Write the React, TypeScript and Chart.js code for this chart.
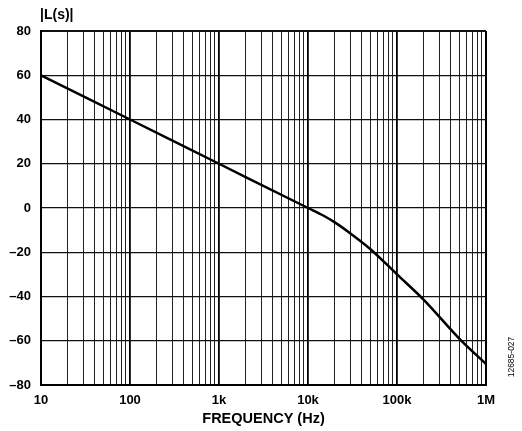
import React, { useEffect, useRef } from 'react';
import { Chart, registerables } from 'chart.js';

Chart.register(...registerables);

const freqHz = [10, 100, 1000, 10000, 15000, 20000, 30000, 50000, 100000, 200000, 500000, 1000000];
const magnitudeDb = [60, 40, 20, 0, -3.5, -6.5, -11.5, -18.5, -30, -41.5, -59, -70.5];

const decadeTicks = [10, 100, 1000, 10000, 100000, 1000000];
const decadeLabels = ['10', '100', '1k', '10k', '100k', '1M'];
const minorMultipliers = [2, 3, 4, 5, 6, 7, 8, 9];
const yTicks = [-80, -60, -40, -20, 0, 20, 40, 60, 80];

const yAxisTitle = '|L(s)|';
const xAxisTitle = 'FREQUENCY (Hz)';
const figureCode = '12685-027';

const FONT = "'Liberation Sans', Arial, sans-serif";
const INK = '#000000';

export default function App() {
  const ref = useRef<HTMLCanvasElement | null>(null);

  useEffect(() => {
    document.body.style.margin = '0';
    const canvas = ref.current;
    if (!canvas) return;

    const xGrid: number[] = [];
    decadeTicks.forEach((d, i) => {
      xGrid.push(d);
      if (i < decadeTicks.length - 1) minorMultipliers.forEach((m) => xGrid.push(d * m));
    });

    const isDecade = (v: number) => decadeTicks.indexOf(v) >= 0;

    const textPlugin = {
      id: 'texts',
      afterDraw(chart: any) {
        const { ctx, chartArea } = chart;
        ctx.save();
        ctx.fillStyle = INK;
        ctx.font = `bold 14px ${FONT}`;
        ctx.textAlign = 'left';
        ctx.textBaseline = 'middle';
        ctx.fillText(yAxisTitle, chartArea.left - 1, 15);
        ctx.font = `8.5px ${FONT}`;
        ctx.translate(512, 357);
        ctx.rotate(-Math.PI / 2);
        ctx.textAlign = 'center';
        ctx.fillText(figureCode, 0, 0);
        ctx.restore();
      },
    };

    const chart = new Chart(canvas, {
      type: 'line',
      data: {
        datasets: [
          {
            data: freqHz.map((f, i) => ({ x: f, y: magnitudeDb[i] })),
            borderColor: INK,
            borderWidth: 2.5,
            pointRadius: 0,
            cubicInterpolationMode: 'monotone',
            fill: false,
          },
        ],
      },
      options: {
        animation: false,
        responsive: false,
        devicePixelRatio: 1,
        layout: { padding: { left: 0, right: 36, top: 31, bottom: 0 } },
        plugins: { legend: { display: false }, tooltip: { enabled: false }, title: { display: false } },
        scales: {
          x: {
            type: 'logarithmic',
            min: 10,
            max: 1000000,
            afterBuildTicks: (scale: any) => {
              scale.ticks = xGrid.map((v) => ({ value: v }));
            },
            afterFit: (scale: any) => {
              scale.height = 46;
            },
            grid: {
              drawTicks: false,
              color: (c: any) => (isDecade(c.tick?.value) ? '#000' : '#222'),
              lineWidth: (c: any) => {
                const v = c.tick?.value;
                if (v === 10 || v === 1000000) return 2;
                return isDecade(v) ? 1.8 : 1;
              },
            },
            border: { display: true, color: INK, width: 2 },
            ticks: {
              autoSkip: false,
              maxRotation: 0,
              padding: 8,
              color: INK,
              font: { family: FONT, size: 13, weight: 'bold' },
              callback: (v: any) => {
                const i = decadeTicks.indexOf(Number(v));
                return i >= 0 ? decadeLabels[i] : '';
              },
            },
            title: {
              display: true,
              text: xAxisTitle,
              color: INK,
              font: { family: FONT, size: 14.5, weight: 'bold' },
              padding: { top: 0, bottom: 3 },
            },
          },
          y: {
            type: 'linear',
            min: -80,
            max: 80,
            afterBuildTicks: (scale: any) => {
              scale.ticks = yTicks.map((v) => ({ value: v }));
            },
            afterFit: (scale: any) => {
              scale.width = 41;
            },
            grid: {
              drawTicks: false,
              color: '#111',
              lineWidth: (c: any) => {
                const v = c.tick?.value;
                return v === 80 || v === -80 ? 2 : 1.2;
              },
            },
            border: { display: true, color: INK, width: 2 },
            ticks: {
              padding: 10,
              color: INK,
              font: { family: FONT, size: 13, weight: 'bold' },
              callback: (v: any) => String(v).replace('-', '\u2013'),
            },
          },
        },
      },
      plugins: [textPlugin],
    } as any);

    return () => chart.destroy();
  }, []);

  return <canvas ref={ref} width={522} height={431} style={{ display: 'block', width: 522, height: 431 }} />;
}
